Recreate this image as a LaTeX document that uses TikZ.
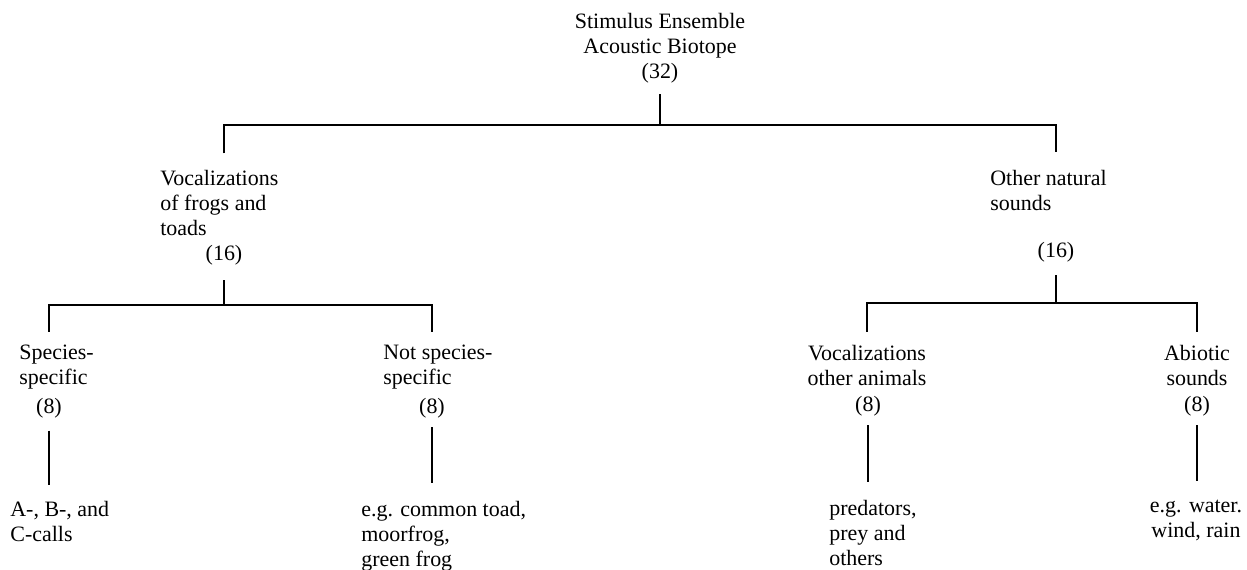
\documentclass[tikz,border=0pt]{standalone}
\usepackage{fontspec}
\setmainfont{Liberation Serif}
\usepackage{tikz}

\tikzset{
  lbl/.style={inner sep=0pt, align=left},
  clbl/.style={inner sep=0pt, align=center},
  branch/.style={line width=0.7pt}
}

\begin{document}
\begin{tikzpicture}[x=0.02cm, y=-0.02cm, font=\fontsize{12.5}{14.23}\selectfont]
        \useasboundingbox (0,0) rectangle (1247,570);
        % labels
        \node[clbl, anchor=north] (root) at (660,13) {Stimulus Ensemble\\Acoustic Biotope\\(32)};
        \node[lbl, anchor=north west] (frogs) at (160,170) {Vocalizations\\of frogs and\\toads};
        \node[lbl, anchor=north west] (other) at (990,170) {Other natural\\sounds};
        \node[clbl] (n16a) at (224,255) {(16)};
        \node[clbl] (n16b) at (1056,252) {(16)};
        \node[lbl, anchor=north west] (spec) at (19,345) {Species-\\specific};
        \node[lbl, anchor=north west] (notspec) at (383,345) {Not species-\\specific};
        \node[clbl, anchor=north] (vocoth) at (867,345) {Vocalizations\\other animals};
        \node[clbl, anchor=north] (abio) at (1197,345) {Abiotic\\sounds};
        \node[clbl] (n8a) at (49,408) {(8)};
        \node[clbl] (n8b) at (432,408) {(8)};
        \node[clbl] (n8c) at (868,406) {(8)};
        \node[clbl] (n8d) at (1197,406) {(8)};
        \node[lbl, anchor=north west] (calls) at (10,501) {A-, B-, and\\C-calls};
        \node[lbl, anchor=north west] (toad) at (361,501) {e.g. common toad,\\moorfrog,\\green frog};
        \node[lbl, anchor=north west] (prey) at (829,500) {predators,\\prey and\\others};
        \node[clbl, anchor=north] (water) at (1196,500) {e.g. water.\\wind, rain};
        \coordinate (bar1) at (0,125);
        \coordinate (bar2) at (0,305);
        \coordinate (bar3) at (0,303);
        % top level
        \draw[branch] ([yshift=-6pt]root.south) -- (root.south |- bar1);
        \draw[branch] ([yshift=9.5pt]frogs.north -| n16a) -- (n16a |- bar1) -- (n16b |- bar1) -- ([yshift=10pt]other.north -| n16b);
        % frogs and toads
        \draw[branch] ([yshift=-8.5pt]n16a.south) -- (n16a |- bar2);
        \draw[branch] ([yshift=7.5pt]spec.north -| n8a) -- (n8a |- bar2) -- (n8b |- bar2) -- ([yshift=7.5pt]notspec.north -| n8b);
        \draw[branch] ([yshift=-7pt]n8a.south) -- ([yshift=9pt]calls.north -| n8a);
        \draw[branch] ([yshift=-5pt]n8b.south) -- ([yshift=10pt]toad.north -| n8b);
        % other natural sounds
        \draw[branch] ([yshift=-7.5pt]n16b.south) -- (n16b |- bar3);
        \draw[branch] ([yshift=7.5pt]vocoth.north) -- (vocoth.north |- bar3) -- (abio.north |- bar3) -- ([yshift=7.5pt]abio.north);
        \draw[branch] ([yshift=-5pt]n8c.south) -- ([yshift=10pt]prey.north -| n8c);
        \draw[branch] ([yshift=-5pt]n8d.south) -- ([yshift=11pt]water.north -| n8d);
\end{tikzpicture}
\end{document}
